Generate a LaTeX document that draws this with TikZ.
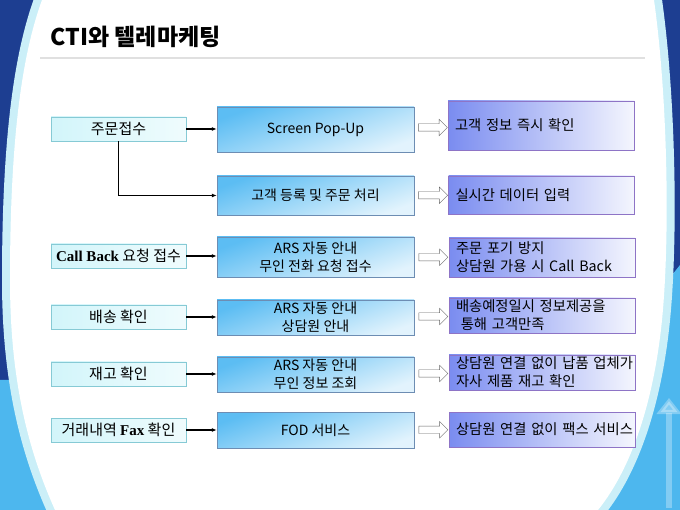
\documentclass[tikz,border=0pt]{standalone}
\usepackage{fontspec}
\setmainfont{Noto Sans CJK KR}
\newfontfamily\tms{Liberation Serif}
\usetikzlibrary{arrows.meta,shapes.arrows,calc}

\definecolor{deepblue}{HTML}{1D3E91}
\definecolor{skyblue}{HTML}{4DB7EE}
\definecolor{paleband}{HTML}{CBEFF8}
\definecolor{srcfill}{HTML}{D2F5FA}
\definecolor{srcline}{HTML}{86CAD5}
\definecolor{procfill}{HTML}{5CBDF3}
\definecolor{procline}{HTML}{6D8DB3}
\definecolor{resfill}{HTML}{7A8CF0}
\definecolor{resline}{HTML}{8E74C6}

\def\slidepath{(42,0) -- (654,0) .. controls (668,100) and (670,240) .. (662,320)
  .. controls (654,400) and (632,468) .. (598,510) -- (55,510)
  .. controls (28,450) and (10,380) .. (10,280) .. controls (10,150) and (20,60) .. (42,0) -- cycle}

\begin{document}
\begin{tikzpicture}[x=1pt,y=-1pt,
    src/.style={draw=srcline, left color=srcfill, right color=srcfill!35!white,
      minimum width=135, minimum height=24, inner sep=0, font=\fontsize{15}{17}\selectfont},
    proc/.style={draw=procline, top color=procfill, bottom color=procfill!18!white,
      shading angle=20, minimum width=197, inner sep=0, align=center,
      font=\fontsize{14}{18}\selectfont},
    res/.style={draw=resline, left color=resfill, right color=resfill!8!white,
      text width=172, inner xsep=7, inner ysep=0, align=left,
      font=\fontsize{14.3}{18}\selectfont},
    hollow/.style={single arrow, draw=black!60, fill=white, minimum height=29,
      single arrow head extend=4.5, inner sep=0},
    link/.style={black, line width=1.1, -{Latex[length=5,width=4]}}]
    \useasboundingbox (0,0) rectangle (680,510);
    % background of the slide
    \fill[deepblue] (0,0) rectangle (680,510);
    \fill[skyblue] (660,290) -- (680,265) -- (680,510) -- (585,510) -- cycle;
    \fill[skyblue] (0,380) -- (18,380) -- (70,510) -- (0,510) -- cycle;
    \draw[white, opacity=.3, line width=6, -{Triangle[width=24,length=16]}] (669,508) -- (669,398);
    \draw[paleband, line width=16] \slidepath;
    \fill[white] \slidepath;
    \node[anchor=west, font=\fontsize{23}{26}\selectfont\bfseries] (title) at (47,37) {CTI와 텔레마케팅};
    \draw[black!12, line width=1.2] (40,58) -- (645,58);

    \node[src] (s1) at (118.5,129) {주문접수};
    \node[src] (s2) at (118.5,256) {{\tms\bfseries Call Back} 요청 접수};
    \node[src] (s3) at (118.5,317) {배송 확인};
    \node[src] (s4) at (118.5,374) {재고 확인};
    \node[src] (s5) at (118.5,430) {거래내역 {\tms\bfseries Fax} 확인};

    \node[proc, minimum height=45] (p1) at (315.5,129.5) {Screen Pop-Up};
    \node[proc, minimum height=39] (p2) at (315.5,195.5) {고객 등록 및 주문 처리};
    \node[proc, minimum height=40] (p3) at (315.5,257) {ARS 자동 안내\\무인 전화 요청 접수};
    \node[proc, minimum height=35] (p4) at (315.5,317.5) {ARS 자동 안내\\상담원 안내};
    \node[proc, minimum height=35] (p5) at (315.5,374.5) {ARS 자동 안내\\무인 정보 조회};
    \node[proc, minimum height=36] (p6) at (315.5,430) {FOD 서비스};

    \node[res, minimum height=49] (r1) at (541,125.5) {\mbox{고객 정보 즉시 확인}};
    \node[res, minimum height=38] (r2) at (541.5,195) {\mbox{실시간 데이터 입력}};
    \node[res, minimum height=39] (r3) at (542,257.5) {\mbox{주문 포기 방지}\\\mbox{상담원 가용 시 Call Back}};
    \node[res, minimum height=35] (r4) at (542,315.5) {\mbox{배송예정일시 정보제공을}\\\mbox{\ 통해 고객만족}};
    \node[res, minimum height=35] (r5) at (542,372.5) {\mbox{상담원 연결 없이 납품 업체가}\\\mbox{자사 제품 재고 확인}};
    \node[res, minimum height=35] (r6) at (542,429.5) {\mbox{상담원 연결 없이 팩스 서비스}};

    \draw[link] (s1.east) -- (s1.east -| p1.west);
    \draw[link] (s1.south) |- (p2.west);
    \draw[link] (s2.east) -- (s2.east -| p3.west);
    \draw[link] (s3.east) -- (s3.east -| p4.west);
    \draw[link] (s4.east) -- (s4.east -| p5.west);
    \draw[link] (s5.east) -- (s5.east -| p6.west);

    \foreach \i in {1,...,6}
      \node[hollow] (h\i) at ($(p\i.east)!.5!(r\i.west)$) {\rule{0pt}{7pt}};
\end{tikzpicture}
\end{document}
